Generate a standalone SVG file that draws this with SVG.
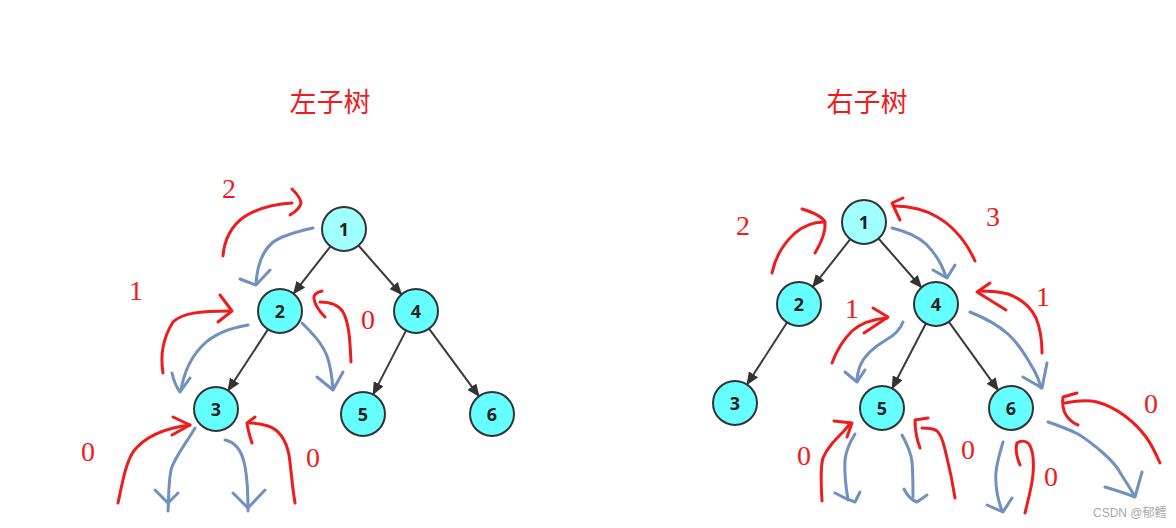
<svg xmlns="http://www.w3.org/2000/svg" width="1176" height="528" viewBox="0 0 1176 528">
<defs>
<marker id="arr" markerUnits="userSpaceOnUse" markerWidth="13" markerHeight="11" refX="12" refY="5.5" orient="auto">
<path d="M0,0 L13,5.5 L0,11 Z" fill="#333"/>
</marker>
<style>
.n{stroke:#333;stroke-width:2;fill:#66ffff}
.root{fill:#a0ffff}
.nt{font-family:"Open Sans","DejaVu Sans",sans-serif;font-weight:700;font-size:18px;fill:#222;text-anchor:middle}
.e{stroke:#3a3a3a;stroke-width:2;fill:none;marker-end:url(#arr)}
.r{stroke:#ee1c1c;stroke-width:3;fill:none;stroke-linecap:round;stroke-linejoin:round}
.b{stroke:#7090c0;stroke-width:3;fill:none;stroke-linecap:round;stroke-linejoin:round}
.lbl{font-family:"Liberation Serif",serif;font-size:28px;fill:#ee1c1c;text-anchor:middle}
.ttl{font-family:"Noto Sans CJK SC",sans-serif;font-size:27px;fill:#ee1c1c;text-anchor:middle}
.wm{font-family:"Liberation Sans","Noto Sans CJK SC",sans-serif;font-size:12px;fill:#a8a8a8}
</style>
</defs>
<rect width="1176" height="528" fill="#fff"/>
<text class="ttl" x="330" y="112">左子树</text>
<text class="ttl" x="867" y="112">右子树</text>

<g id="connectors">
<line class="e" x1="330.5" y1="246.3" x2="293.5" y2="293.7"/>
<line class="e" x1="358.5" y1="245.5" x2="401.5" y2="294.5"/>
<line class="e" x1="268" y1="329.4" x2="228" y2="390.6"/>
<line class="e" x1="406" y1="330.6" x2="373.1" y2="394.4"/>
<line class="e" x1="429" y1="328.7" x2="479" y2="396.3"/>
<line class="e" x1="850.3" y1="239.2" x2="812.7" y2="286.8"/>
<line class="e" x1="878.5" y1="238.5" x2="921.5" y2="287.5"/>
<line class="e" x1="787" y1="322.5" x2="747" y2="384.5"/>
<line class="e" x1="925.9" y1="323.5" x2="892.1" y2="388.5"/>
<line class="e" x1="948.9" y1="321.8" x2="998.1" y2="390.2"/>
</g>

<g id="L1"><circle class="n root" cx="344" cy="229" r="22"/><text class="nt" x="344" y="235.5">1</text></g>
<g id="L2"><circle class="n" cx="280" cy="311" r="22"/><text class="nt" x="280" y="317.5">2</text></g>
<g id="L4"><circle class="n" cx="416" cy="311" r="22"/><text class="nt" x="416" y="317.5">4</text></g>
<g id="L3"><circle class="n" cx="216" cy="409" r="22"/><text class="nt" x="216" y="415.5">3</text></g>
<g id="L5"><circle class="n" cx="363" cy="414" r="22"/><text class="nt" x="363" y="420.5">5</text></g>
<g id="L6"><circle class="n" cx="492" cy="414" r="22"/><text class="nt" x="492" y="420.5">6</text></g>

<g id="R1"><circle class="n root" cx="864" cy="222" r="22"/><text class="nt" x="864" y="228.5">1</text></g>
<g id="R2"><circle class="n" cx="799" cy="304" r="22"/><text class="nt" x="799" y="310.5">2</text></g>
<g id="R4"><circle class="n" cx="936" cy="304" r="22"/><text class="nt" x="936" y="310.5">4</text></g>
<g id="R3"><circle class="n" cx="735" cy="403" r="22"/><text class="nt" x="735" y="409.5">3</text></g>
<g id="R5"><circle class="n" cx="882" cy="408" r="22"/><text class="nt" x="882" y="414.5">5</text></g>
<g id="R6"><circle class="n" cx="1011" cy="408" r="22"/><text class="nt" x="1011" y="414.5">6</text></g>

<g id="annot-left">
<path class="r" d="M223,256 C224,240 232,225 244,217 C258,208 275,204 292,203"/>
<path class="r" d="M292,189 C296,193 301,198 301,203 C300,208 295,212 290,215"/>
<path class="b" d="M313,228 C295,232 280,236 272,243 C262,252 257,266 256,284"/>
<path class="b" d="M240,279 L256,285 L270,270"/>
<path class="r" d="M163,373 C160,355 163,338 173,322 C182,313 200,311 230,311"/>
<path class="r" d="M220,295 L232,311 L218,322"/>
<path class="b" d="M248,325 C230,328 214,334 203,345 C190,358 184,372 181,390"/>
<path class="b" d="M172,373 C174,382 177,388 180,392 L190,378"/>
<path class="r" d="M351,362 C350,345 350,325 343,312 C338,304 330,302 320,302"/>
<path class="r" d="M322,291 C317,292 313,295 314,299 C315,305 319,311 325,317"/>
<path class="b" d="M302,323 C312,333 322,343 327,356 C331,367 332,377 333,389"/>
<path class="b" d="M317,377 L333,390 L343,372"/>
<path class="r" d="M118,503 C122,485 125,465 133,452 C145,436 165,428 190,425"/>
<path class="r" d="M173,417 L190,425 L172,435"/>
<path class="b" d="M195,428 C185,445 174,458 171,470 C168,485 169,500 168,511"/>
<path class="b" d="M155,490 L168,503 L178,493"/>
<path class="b" d="M225,440 C235,442 241,450 244,462 C248,478 248,495 248,511"/>
<path class="b" d="M233,493 L248,508 L265,490"/>
<path class="r" d="M295,503 C292,485 291,468 289,455 C286,440 280,430 268,426 C262,424 256,423 250,423"/>
<path class="r" d="M255,417 L247,423 C248,430 250,437 252,443"/>
</g>

<g id="annot-right">
<path class="r" d="M772,273 C775,258 783,244 795,233 C805,225 815,222 823,222"/>
<path class="r" d="M802,209 C812,212 822,216 825,222 C826,232 821,243 815,253"/>
<path class="r" d="M975,261 C970,250 964,240 955,231 C945,220 930,212 918,209 C910,207 905,206 895,206"/>
<path class="r" d="M903,198 L892,203 L900,220"/>
<path class="b" d="M892,228 C905,231 917,236 926,244 C936,254 942,264 946,277"/>
<path class="b" d="M933,270 L947,278 L955,265"/>
<path class="r" d="M1042,353 C1042,340 1041,330 1036,318 C1031,308 1022,299 1008,294 C998,291 988,291 979,291"/>
<path class="r" d="M990,283 L977,292 L1006,310"/>
<path class="b" d="M970,312 C985,318 998,325 1008,334 C1020,345 1027,358 1034,370 C1038,378 1040,383 1041,388"/>
<path class="b" d="M1023,377 L1042,388 L1047,363"/>
<path class="r" d="M832,363 C836,352 843,340 852,331 C862,322 875,319 887,318"/>
<path class="r" d="M873,308 L888,317 L864,333"/>
<path class="b" d="M903,322 C900,330 895,335 886,340 C874,347 864,356 860,366 C858,372 857,376 857,381"/>
<path class="b" d="M845,372 L857,382 L865,370"/>
<path class="r" d="M822,501 C821,485 820,468 823,458 C827,448 835,440 843,432 C847,428 849,425 850,423"/>
<path class="r" d="M834,421 L852,423 L847,437"/>
<path class="b" d="M855,434 C850,442 846,450 845,460 C844,475 846,488 848,500"/>
<path class="b" d="M835,493 C842,497 849,500 855,502 L860,492"/>
<path class="b" d="M902,435 C907,444 911,452 912,462 C913,474 913,486 913,497"/>
<path class="b" d="M904,489 C907,495 911,500 917,502 L927,495"/>
<path class="r" d="M955,498 C953,485 950,470 947,458 C944,445 942,436 937,431 C933,428 928,428 922,428"/>
<path class="r" d="M928,418 L915,420 C915,430 917,440 920,448"/>
<path class="b" d="M1003,442 C1000,452 997,462 996,472 C995,485 998,500 1002,511"/>
<path class="b" d="M987,505 L1003,512 L1012,498"/>
<path class="r" d="M1025,513 C1028,500 1032,487 1033,474 C1034,462 1033,450 1029,444 C1025,440 1020,441 1017,443 C1015,450 1017,458 1020,465"/>
<path class="b" d="M1048,422 C1060,426 1070,430 1078,434 C1088,440 1095,446 1102,452 C1110,459 1117,466 1121,474 C1126,482 1130,488 1134,495"/>
<path class="b" d="M1105,487 C1115,490 1125,493 1135,497 L1142,472"/>
<path class="r" d="M1160,463 C1156,454 1152,445 1146,437 C1140,429 1133,422 1125,416 C1117,410 1108,405 1097,402 C1088,400 1075,401 1065,403"/>
<path class="r" d="M1077,393 L1063,397 C1062,404 1063,410 1066,415 C1069,420 1073,423 1078,425"/>
</g>

<g id="labels">
<text class="lbl" x="229" y="198">2</text>
<text class="lbl" x="136" y="300">1</text>
<text class="lbl" x="368" y="329">0</text>
<text class="lbl" x="88" y="461">0</text>
<text class="lbl" x="313" y="467">0</text>
<text class="lbl" x="743" y="235">2</text>
<text class="lbl" x="993" y="226">3</text>
<text class="lbl" x="1043" y="306">1</text>
<text class="lbl" x="852" y="318">1</text>
<text class="lbl" x="1151" y="413">0</text>
<text class="lbl" x="804" y="465">0</text>
<text class="lbl" x="968" y="459">0</text>
<text class="lbl" x="1051" y="486">0</text>
</g>
<text class="wm" x="1093" y="517">CSDN @郁鳕</text>
</svg>
